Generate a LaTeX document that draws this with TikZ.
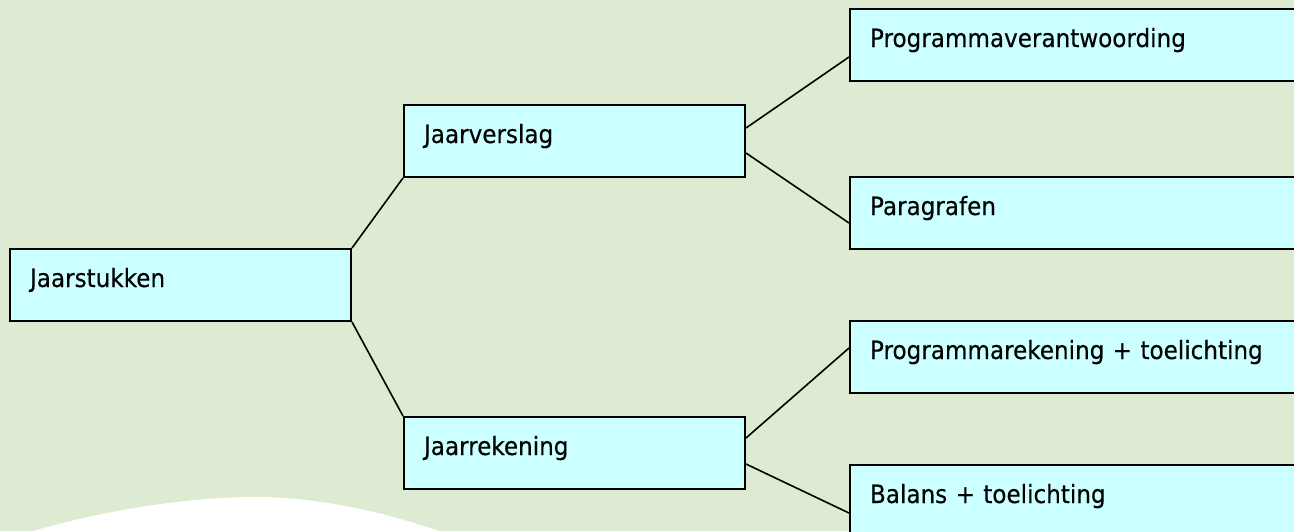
\documentclass[tikz,border=0pt]{standalone}
\usepackage{fontspec}
\setmainfont{DejaVu Sans}[FakeStretch=0.92,FakeBold=0.3]
\definecolor{bg}{HTML}{DDEBD3}
\definecolor{boxfill}{HTML}{CCFFFF}
\begin{document}
\begin{tikzpicture}[x=1pt,y=1pt,
  box/.style={draw=black, line width=2pt, fill=boxfill, anchor=north west,
    minimum height=72pt, inner xsep=20pt, inner ysep=0pt,
    text height=20pt, text depth=16pt, align=left,
    font=\fontsize{25.1}{30}\selectfont},
  link/.style={draw=black, line width=1.6pt}]
\useasboundingbox (0,0) rectangle (1294,-531);
\clip (0,0) rectangle (1294,-531);
\fill[bg] (0,0) rectangle (1294,-531);
\fill[white] (20,-535) .. controls (100,-510) and (190,-497) .. (255,-497)
  .. controls (320,-497) and (390,-513) .. (450,-535) -- cycle;
\node[box, text width=301pt] (js) at (9,-248) {Jaarstukken};
\node[box, text width=301pt] (jv) at (403,-104) {Jaarverslag};
\node[box, text width=301pt] (jr) at (403,-416) {Jaarrekening};
\node[box, text width=420pt] (pv) at (849,-8) {Programmaverantwoording};
\node[box, text width=420pt] (pa) at (849,-176) {Paragrafen};
\node[box, text width=420pt] (pr) at (849,-320) {Programmarekening + toelichting};
\node[box, text width=420pt] (bt) at (849,-464) {Balans + toelichting};
\draw[link] (js.north east) -- (jv.south west);
\draw[link] (js.south east) -- (jr.north west);
\draw[link] ([yshift=13pt]jv.east) -- ([yshift=-12pt]pv.west);
\draw[link] ([yshift=-12pt]jv.east) -- ([yshift=-10pt]pa.west);
\draw[link] ([yshift=15pt]jr.east) -- ([yshift=9pt]pr.west);
\draw[link] ([yshift=-11pt]jr.east) -- ([yshift=-12pt]bt.west);
\end{tikzpicture}
\end{document}
